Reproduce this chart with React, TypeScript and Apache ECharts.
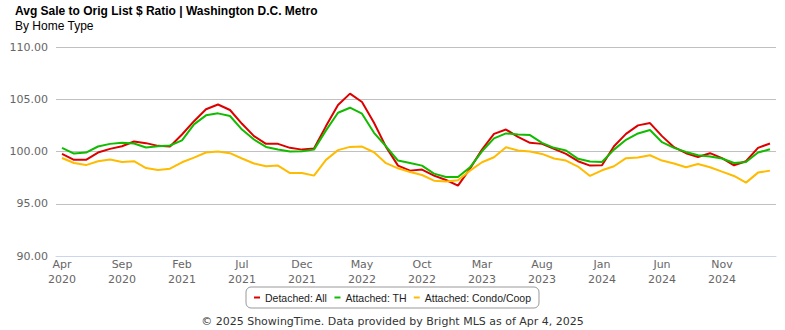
import React, { useEffect, useRef } from "react";
import * as echarts from "echarts";

const months = ["Jan","Feb","Mar","Apr","May","Jun","Jul","Aug","Sep","Oct","Nov","Dec"];
const categories: string[] = [];
for (let y = 2020; y <= 2025; y++) {
  for (let m = 0; m < 12; m++) {
    if (y === 2020 && m < 3) continue;
    if (y === 2025 && m > 2) continue;
    categories.push(months[m] + "\n" + y);
  }
}

const detachedAll = [
  99.77, 99.2, 99.2, 99.9, 100.25, 100.5, 100.96, 100.8, 100.54, 100.48,
  101.63, 102.9, 104.04, 104.5, 103.97, 102.65, 101.47, 100.73, 100.73, 100.35,
  100.18, 100.28, 102.43, 104.45, 105.54, 104.74, 102.75, 100.44, 98.65, 98.17,
  98.27, 97.69, 97.27, 96.73, 98.36, 100.19, 101.69, 102.1, 101.4, 100.83,
  100.73, 100.25, 99.77, 99.07, 98.65, 98.68, 100.5, 101.69, 102.5, 102.72,
  101.47, 100.41, 99.84, 99.48, 99.84, 99.36, 98.68, 99.07, 100.35, 100.77,
];
const attachedTH = [
  100.35, 99.8, 99.9, 100.48, 100.73, 100.83, 100.77, 100.38, 100.5, 100.57,
  101.06, 102.6, 103.46, 103.65, 103.4, 102.1, 101.15, 100.44, 100.2, 100.0,
  100.02, 100.18, 102.02, 103.71, 104.19, 103.62, 101.79, 100.5, 99.13, 98.9,
  98.65, 97.88, 97.56, 97.56, 98.49, 100.02, 101.25, 101.73, 101.63, 101.57,
  100.83, 100.35, 100.1, 99.3, 99.04, 99.0, 100.18, 101.12, 101.73, 102.05,
  100.89, 100.35, 99.96, 99.64, 99.52, 99.33, 98.9, 99.0, 99.9, 100.22,
];
const attachedCondo = [
  99.38, 98.9, 98.7, 99.07, 99.23, 99.0, 99.07, 98.42, 98.23, 98.36,
  98.97, 99.42, 99.9, 100.0, 99.84, 99.33, 98.85, 98.59, 98.65, 97.94,
  97.94, 97.69, 99.2, 100.13, 100.44, 100.47, 99.93, 98.88, 98.39, 98.04,
  97.75, 97.21, 97.14, 97.24, 98.17, 98.97, 99.45, 100.41, 100.1, 100.0,
  99.77, 99.33, 99.13, 98.56, 97.66, 98.2, 98.59, 99.36, 99.42, 99.64,
  99.13, 98.85, 98.49, 98.81, 98.49, 98.07, 97.66, 97.02, 97.98, 98.17,
];

const seriesNames = ["Detached: All", "Attached: TH", "Attached: Condo/Coop"];
const seriesColors = ["#dd0000", "#11bb00", "#ffbb00"];

export default function App() {
  const ref = useRef<HTMLDivElement>(null);
  useEffect(() => {
    document.body.style.margin = "0";
    if (!ref.current) return;
    const chart = echarts.init(ref.current, undefined, { renderer: "svg" });
    const data = [detachedAll, attachedTH, attachedCondo];
    chart.setOption({
      animation: false,
      backgroundColor: "#ffffff",
      title: [
        {
          text: "Avg Sale to Orig List $ Ratio | Washington D.C. Metro",
          left: 10,
          top: 0,
          textStyle: { fontFamily: "Liberation Sans, Arial, sans-serif", fontSize: 12, fontWeight: "bold", color: "#000" },
        },
        {
          text: "By Home Type",
          left: 10,
          top: 15,
          textStyle: { fontFamily: "Liberation Sans, Arial, sans-serif", fontSize: 12, fontWeight: "normal", color: "#000" },
        },
        {
          text: "© 2025 ShowingTime. Data provided by Bright MLS as of Apr 4, 2025",
          left: "center",
          top: 311,
          textStyle: { fontFamily: "DejaVu Sans, sans-serif", fontSize: 11, fontWeight: "normal", color: "#333" },
        },
      ],
      legend: {
        data: seriesNames,
        left: "center",
        top: 287,
        icon: "rect",
        itemWidth: 6,
        itemHeight: 2,
        itemGap: 7,
        padding: [5, 8, 5, 8],
        borderColor: "#999",
        borderWidth: 1,
        borderRadius: 5,
        textStyle: { fontFamily: "Liberation Sans, Arial, sans-serif", fontSize: 10.5, color: "#222" },
      },
      grid: { left: 56, right: 9, top: 47, bottom: 74, containLabel: false },
      xAxis: {
        type: "category",
        data: categories,
        boundaryGap: true,
        axisLine: { lineStyle: { color: "#ccd6eb", width: 1 } },
        axisTick: { show: false },
        axisLabel: {
          interval: 4,
          color: "#666",
          fontFamily: "DejaVu Sans, sans-serif",
          fontSize: 11,
          lineHeight: 15,
          margin: 1,
        },
      },
      yAxis: {
        type: "value",
        min: 90,
        max: 110,
        interval: 5,
        axisLabel: {
          color: "#666",
          fontFamily: "DejaVu Sans, sans-serif",
          fontSize: 11,
          margin: 8,
          formatter: (v: number) => v.toFixed(2),
        },
        splitLine: { lineStyle: { color: "#c0c0c0", width: 1 } },
        axisLine: { show: false },
        axisTick: { show: false },
      },
      series: data.map((d, i) => ({
        name: seriesNames[i],
        type: "line",
        data: d,
        symbol: "none",
        lineStyle: { color: seriesColors[i], width: 2 },
        itemStyle: { color: seriesColors[i] },
      })),
    });
    return () => chart.dispose();
  }, []);
  return <div ref={ref} style={{ width: 785, height: 330 }} />;
}
